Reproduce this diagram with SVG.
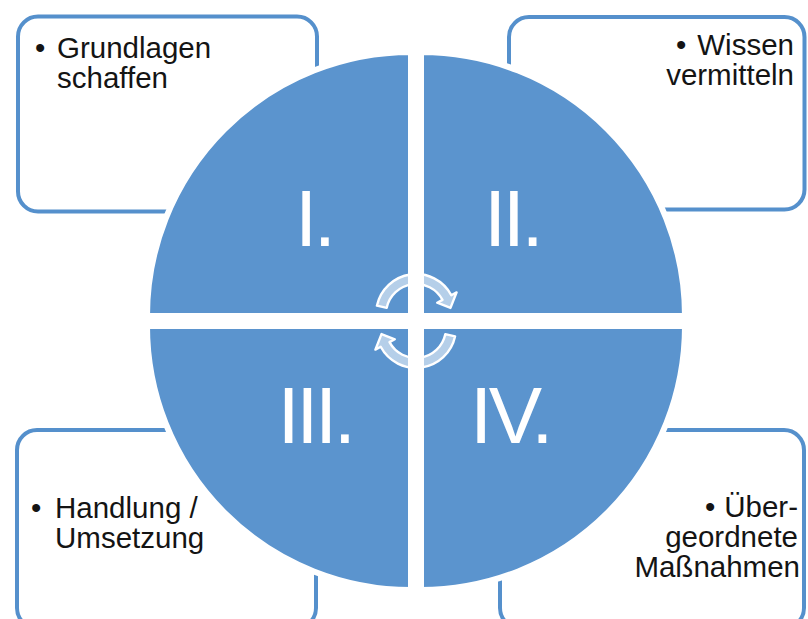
<svg xmlns="http://www.w3.org/2000/svg" width="808" height="619" viewBox="0 0 808 619">
<style>
.box{fill:#ffffff;stroke:#5590CC;stroke-width:4}
.quad{fill:#5B94CE;stroke:#ffffff;stroke-width:6;stroke-linejoin:miter}
.txt{font-family:"Liberation Sans",Arial,sans-serif;font-size:29.5px;fill:#141414}
.num{font-family:"Liberation Sans",Arial,sans-serif;font-size:80px;fill:#ffffff;letter-spacing:-3.5px}
.arr{fill:#ffffff;fill-opacity:0.55;stroke:#ffffff;stroke-width:2.4;stroke-linejoin:round}
</style>
<rect width="808" height="619" fill="#ffffff"/>
<g id="box1">
<rect class="box" x="18" y="16.5" width="299" height="195" rx="20"/>
<text class="txt"><tspan x="35" y="58">•</tspan><tspan x="57" y="58">Grundlagen</tspan><tspan x="57" y="88">schaffen</tspan></text>
</g>
<g id="box2">
<rect class="box" x="509" y="17" width="295.5" height="192.5" rx="20"/>
<text class="txt"><tspan x="676" y="55">•</tspan></text>
<text class="txt" text-anchor="end"><tspan x="794" y="55">Wissen</tspan><tspan x="794" y="85">vermitteln</tspan></text>
</g>
<g id="box3">
<rect class="box" x="17" y="430" width="299" height="198" rx="20"/>
<text class="txt"><tspan x="31" y="518">•</tspan><tspan x="55" y="518">Handlung /</tspan><tspan x="55" y="548">Umsetzung</tspan></text>
</g>
<g id="box4">
<rect class="box" x="500" y="430" width="304" height="198" rx="20"/>
<text class="txt"><tspan x="705" y="517">•</tspan></text>
<text class="txt" text-anchor="end"><tspan x="798" y="517">Über-</tspan><tspan x="798" y="547">geordnete</tspan><tspan x="800" y="577">Maßnahmen</tspan></text>
</g>
<g id="q1">
<path class="quad" d="M411,316 L411,52 A264,264 0 0 0 147,316 Z"/>
<text class="num" x="295" y="246">I.</text>
</g>
<g id="q2">
<path class="quad" d="M421,316 L421,52 A264,264 0 0 1 685,316 Z"/>
<text class="num" x="484" y="246">II.</text>
</g>
<g id="q3">
<path class="quad" d="M411,326 L147,326 A264,264 0 0 0 411,590 Z"/>
<text class="num" x="277.5" y="443">III.</text>
</g>
<g id="q4">
<path class="quad" d="M421,326 L685,326 A264,264 0 0 1 421,590 Z"/>
<text class="num" x="470" y="443">IV.</text>
</g>
<g id="connectors">
<path id="arrow-top" class="arr" d="M376.9,305.7 A40,40 0 0 1 451.3,295.2 L456.6,292.4 L450.5,307.9 L437.2,302.7 L442.5,299.9 A30,30 0 0 0 386.7,307.8 Z"/>
<path id="arrow-bottom" class="arr" transform="rotate(180 416 321)" d="M376.9,305.7 A40,40 0 0 1 451.3,295.2 L456.6,292.4 L450.5,307.9 L437.2,302.7 L442.5,299.9 A30,30 0 0 0 386.7,307.8 Z"/>
</g>
</svg>
